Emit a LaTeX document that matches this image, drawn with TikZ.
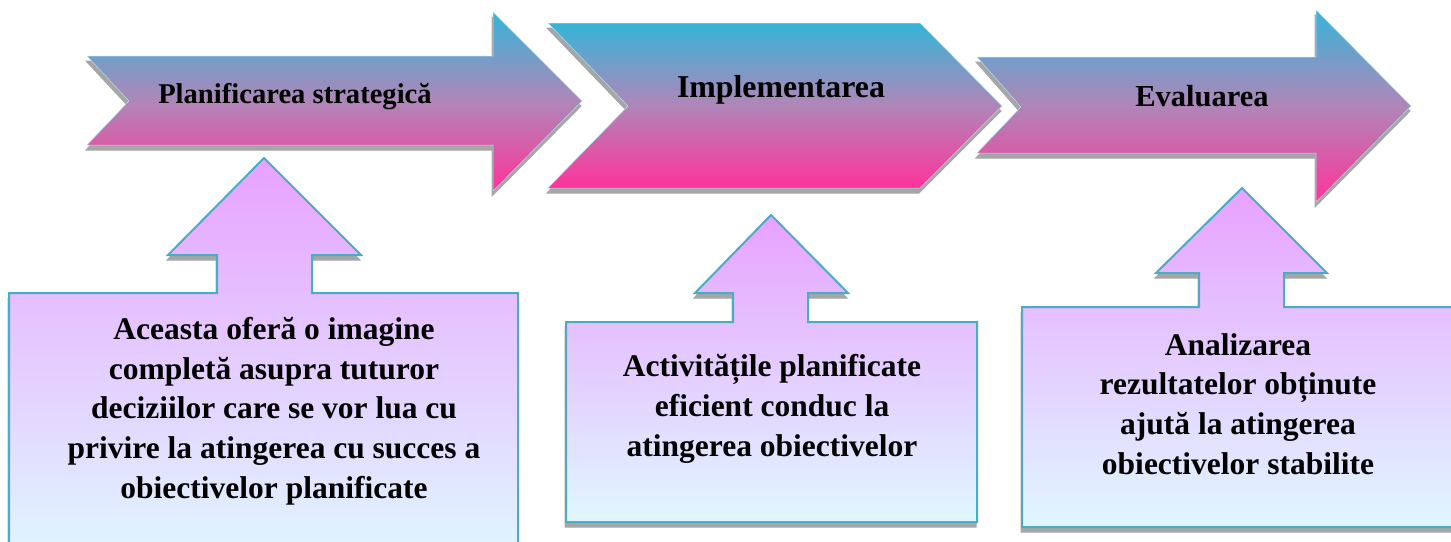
\documentclass[tikz,border=0pt]{standalone}
\usepackage{fontspec}
\setmainfont{Liberation Serif}
\definecolor{aqua}{HTML}{36B4D8}
\definecolor{midmix}{HTML}{B086B8}
\definecolor{hotpink}{HTML}{FF3399}
\definecolor{lilac}{HTML}{E8A1FF}
\definecolor{icy}{HTML}{E0F7FF}
\definecolor{edge}{HTML}{4BACC6}
\definecolor{shade}{HTML}{A6A6A6}
\tikzset{
  shadowshape/.style={fill=shade,draw=shade,line width=1pt,shift={(-1,5)}},
  bigarrow/.style={top color=aqua,bottom color=hotpink,middle color=midmix,draw=aqua!40,line width=0.5pt},
  callout/.style={top color=lilac,bottom color=icy,draw=edge,line width=2pt,line join=miter},
  head/.style={align=center,inner sep=0pt},
  body/.style={font=\bfseries\fontsize{31.5}{39.7}\selectfont,align=center,inner sep=0pt}
}
\newcommand{\twopath}[2]{\path[shadowshape] #2; \path[#1] #2;}
\begin{document}
\begin{tikzpicture}[x=1pt,y=-1pt]
\useasboundingbox (0,0) rectangle (1451,541);
\clip (0,0) rectangle (1451,541);
% top arrows
\twopath{bigarrow}{(87,56) -- (493,56) -- (493,12) -- (582,101) -- (493,191) -- (493,145) -- (87,145) -- (129,101) -- cycle}
\twopath{bigarrow}{(548,23) -- (920,23) -- (1002,106) -- (920,188) -- (548,188) -- (628,106) -- cycle}
\twopath{bigarrow}{(977,57) -- (1316,57) -- (1316,10) -- (1411,106) -- (1316,202) -- (1316,153) -- (977,153) -- (1021,107) -- cycle}
% callouts
\twopath{callout}{(264,158) -- (361,255) -- (312,255) -- (312,293) -- (518,293) -- (518,560) -- (9,560) -- (9,293) -- (217,293) -- (217,255) -- (168,255) -- cycle}
\twopath{callout}{(771,215) -- (848,293) -- (808,293) -- (808,322) -- (977,322) -- (977,522) -- (566,522) -- (566,322) -- (733,322) -- (733,293) -- (695,293) -- cycle}
\twopath{callout}{(1242,188) -- (1327,273) -- (1284,273) -- (1284,307) -- (1470,307) -- (1470,527) -- (1022,527) -- (1022,307) -- (1199,307) -- (1199,273) -- (1156,273) -- cycle}
% labels
\node[head,font=\bfseries\fontsize{28.6}{32}\selectfont] (t1) at (295,97) {Planificarea strategică};
\node[head,font=\bfseries\fontsize{31.8}{34}\selectfont] (t2) at (781,90) {Implementarea};
\node[head,font=\bfseries\fontsize{30.5}{34}\selectfont] (t3) at (1202,96) {Evaluarea};
\node[body] (b1) at (274,411) {Aceasta oferă o imagine\\completă asupra tuturor\\deciziilor care se vor lua cu\\privire la atingerea cu succes a\\obiectivelor planificate};
\node[body] (b2) at (772,409) {Activitățile planificate\\eficient conduc la\\atingerea obiectivelor};
\node[body] (b3) at (1238,404) {Analizarea\\rezultatelor obținute\\ajută la atingerea\\obiectivelor stabilite};
\end{tikzpicture}
\end{document}
